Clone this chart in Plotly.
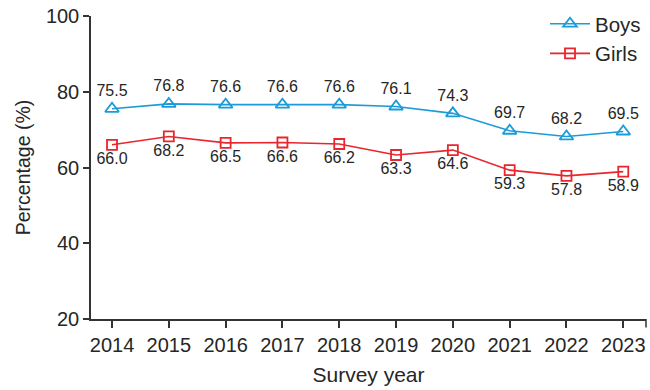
import plotly.graph_objects as go

years = [2014, 2015, 2016, 2017, 2018, 2019, 2020, 2021, 2022, 2023]
boys = [75.5, 76.8, 76.6, 76.6, 76.6, 76.1, 74.3, 69.7, 68.2, 69.5]
girls = [66.0, 68.2, 66.5, 66.6, 66.2, 63.3, 64.6, 59.3, 57.8, 58.9]

blue = "#1b9bd7"
red = "#e8262d"
txt = "#262626"
font = "Liberation Sans, Arial, Helvetica, sans-serif"

fig = go.Figure()
fig.add_trace(go.Scatter(
    x=years, y=boys, name="Boys", mode="lines+markers+text",
    line=dict(color=blue, width=1.6),
    marker=dict(symbol="triangle-up-open", size=12, color=blue, line=dict(width=1.8)),
    text=[f"{v:.1f}" for v in boys], textposition="top center",
    textfont=dict(size=16, color=txt, family=font),
))
fig.add_trace(go.Scatter(
    x=years, y=girls, name="Girls", mode="lines+markers+text",
    line=dict(color=red, width=1.6),
    marker=dict(symbol="square-open", size=10, color=red, line=dict(width=1.8)),
    text=[f"{v:.1f}" for v in girls], textposition="bottom center",
    textfont=dict(size=16, color=txt, family=font),
))

fig.update_layout(
    width=650, height=390,
    margin=dict(l=91, r=4, t=16, b=71),
    paper_bgcolor="white", plot_bgcolor="white",
    font=dict(family=font, color=txt, size=20),
    showlegend=True,
    legend=dict(x=1.0, y=1.04, xanchor="right", yanchor="top",
                bgcolor="rgba(0,0,0,0)", font=dict(size=20.5, color=txt),
                itemwidth=40, tracegroupgap=0),
    xaxis=dict(
        range=[2013.63, 2023.4], tickmode="array", tickvals=years,
        ticktext=[str(y) for y in years],
        showgrid=False, zeroline=False, showline=True, linecolor="#333", linewidth=1.5,
        ticks="outside", ticklen=7, tickwidth=1.5, tickcolor="#333",
        tickfont=dict(size=20, color=txt),
        title=dict(text="Survey year", font=dict(size=21, color=txt), standoff=13),
    ),
    yaxis=dict(
        range=[20, 100], tickvals=[20, 40, 60, 80, 100],
        showgrid=False, zeroline=False, showline=True, linecolor="#333", linewidth=1.5,
        ticks="outside", ticklen=6, tickwidth=1.5, tickcolor="#333",
        tickfont=dict(size=20, color=txt),
        title=dict(text="Percentage (%)", font=dict(size=19.5, color=txt), standoff=10),
    ),
)
# end tick at right end of x axis
fig.add_shape(type="line", xref="paper", yref="paper", x0=1, x1=1, y0=0, y1=-0.028,
              line=dict(color="#333", width=1.5))

fig.write_html("out.html")
